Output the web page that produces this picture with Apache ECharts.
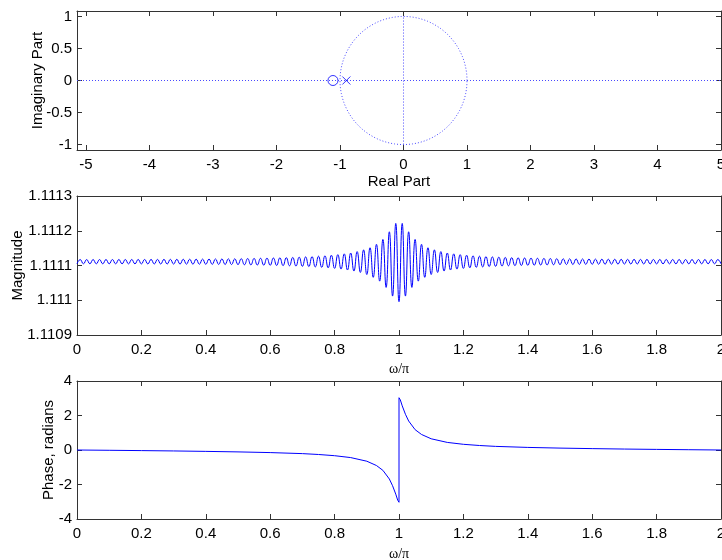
<!DOCTYPE html>
<html><head><meta charset="utf-8">
<script src="https://cdn.jsdelivr.net/npm/echarts@6/dist/echarts.min.js"></script>
<style>html,body{margin:0;padding:0;background:#fff}#c{width:722px;height:560px}</style>
</head><body><div id="c"></div>
<script>
// ---- data ----
const zeros = [[-1.111, 0]];
const poles = [[-0.9, 0]];
const realLimits = [-5.142, 5];
const imagLimits = [-1.085, 1.085];
const realTicks = [-5, -4, -3, -2, -1, 0, 1, 2, 3, 4, 5];
const imagTicks = [-1, -0.5, 0, 0.5, 1];
const magTicks = [1.1109, 1.111, 1.1111, 1.1112, 1.1113];
const phaseTicks = [-4, -2, 0, 2, 4];
const omegaTicks = [0, 0.2, 0.4, 0.6, 0.8, 1, 1.2, 1.4, 1.6, 1.8, 2];
const omegaStep = 0.01;
const magnitude = [
1.11110495,1.11111705,1.11110495,1.11111706,1.11110494,1.11111707,1.11110492,1.11111709,1.11110490,1.11111712,
1.11110487,1.11111714,1.11110484,1.11111718,1.11110480,1.11111723,1.11110475,1.11111728,1.11110470,1.11111733,
1.11110464,1.11111740,1.11110457,1.11111747,1.11110450,1.11111755,1.11110440,1.11111765,1.11110430,1.11111775,
1.11110420,1.11111785,1.11110410,1.11111800,1.11110395,1.11111810,1.11110380,1.11111825,1.11110370,1.11111840,
1.11110350,1.11111860,1.11110330,1.11111880,1.11110310,1.11111900,1.11110290,1.11111920,1.11110270,1.11111940,
1.11110245,1.11111970,1.11110220,1.11112000,1.11110180,1.11112030,1.11110150,1.11112070,1.11110110,1.11112110,
1.11110070,1.11112150,1.11110020,1.11112200,1.11109970,1.11112250,1.11109920,1.11112320,1.11109850,1.11112390,
1.11109770,1.11112470,1.11109690,1.11112560,1.11109580,1.11112670,1.11109470,1.11112800,1.11109330,1.11112950,
1.11109170,1.11113120,1.11108970,1.11113350,1.11108700,1.11113600,1.11108400,1.11114000,1.11108000,1.11114500,
1.11107400,1.11115100,1.11106600,1.11116100,1.11105500,1.11117500,1.11103700,1.11119700,1.11101200,1.11122100,
1.11099600,
1.11122100,1.11101200,1.11119700,1.11103700,1.11117500,1.11105500,1.11116100,1.11106600,1.11115100,1.11107400,
1.11114500,1.11108000,1.11114000,1.11108400,1.11113600,1.11108700,1.11113350,1.11108970,1.11113120,1.11109170,
1.11112950,1.11109330,1.11112800,1.11109470,1.11112670,1.11109580,1.11112560,1.11109690,1.11112470,1.11109770,
1.11112390,1.11109850,1.11112320,1.11109920,1.11112250,1.11109970,1.11112200,1.11110020,1.11112150,1.11110070,
1.11112110,1.11110110,1.11112070,1.11110150,1.11112030,1.11110180,1.11112000,1.11110220,1.11111970,1.11110245,
1.11111940,1.11110270,1.11111920,1.11110290,1.11111900,1.11110310,1.11111880,1.11110330,1.11111860,1.11110350,
1.11111840,1.11110370,1.11111825,1.11110380,1.11111810,1.11110395,1.11111800,1.11110410,1.11111785,1.11110420,
1.11111775,1.11110430,1.11111765,1.11110440,1.11111755,1.11110450,1.11111747,1.11110457,1.11111740,1.11110464,
1.11111733,1.11110470,1.11111728,1.11110475,1.11111723,1.11110480,1.11111718,1.11110484,1.11111714,1.11110487,
1.11111712,1.11110490,1.11111709,1.11110492,1.11111707,1.11110494,1.11111706,1.11110495,1.11111705,1.11110495
];
const phaseOmega = [0,0.1,0.2,0.3,0.4,0.5,0.6,0.7,0.75,0.8,0.85,0.9,0.93,0.95,0.97,0.98,0.99,0.996,1.0,
  1.0,1.004,1.01,1.02,1.03,1.05,1.07,1.1,1.15,1.2,1.25,1.3,1.4,1.5,1.6,1.7,1.8,1.9,2.0];
const phaseValues = [0,-0.017,-0.035,-0.055,-0.08,-0.11,-0.15,-0.21,-0.26,-0.33,-0.44,-0.65,-0.9,-1.18,-1.68,-2.07,-2.56,-2.91,-3.03,
  3.03,2.91,2.56,2.07,1.68,1.18,0.9,0.65,0.44,0.33,0.26,0.21,0.15,0.11,0.08,0.055,0.035,0.017,0];

// ---- chart ----
const FONT = '"Liberation Sans", Arial, sans-serif';
const SERIF = '"Liberation Serif", "Times New Roman", serif';
const AX = '#333';
const BLUE = '#0000ff';
const FS = 15;
const fmt1 = v => String(parseFloat(Number(v).toFixed(1)));
const fmt4 = v => String(parseFloat(Number(v).toFixed(4)));

function xAxes(gi, lim, ticks, fmt, name, nameFont, nameSize, nameGap) {
  const base = {
    type: 'value', gridIndex: gi, min: lim[0], max: lim[1],
    axisLine: { show: true, onZero: false, lineStyle: { color: AX, width: 1 } },
    splitLine: { show: false },
    axisTick: { show: true, inside: true, length: 5, customValues: ticks, lineStyle: { color: AX } }
  };
  return [
    Object.assign({}, base, {
      position: 'bottom',
      axisLabel: { customValues: ticks, margin: 7, fontSize: FS, fontFamily: FONT, color: '#000', formatter: fmt, hideOverlap: false },
      name: name, nameLocation: 'middle', nameGap: nameGap, nameMoveOverlap: false,
      nameTextStyle: { fontSize: nameSize, fontFamily: nameFont, color: '#000' }
    }),
    Object.assign({}, base, { position: 'top', axisLabel: { show: false } })
  ];
}
function yAxes(gi, lim, ticks, fmt, name, nameGap) {
  const base = {
    type: 'value', gridIndex: gi, min: lim[0], max: lim[1],
    axisLine: { show: true, onZero: false, lineStyle: { color: AX, width: 1 } },
    splitLine: { show: false },
    axisTick: { show: true, inside: true, length: 5, customValues: ticks, lineStyle: { color: AX } }
  };
  return [
    Object.assign({}, base, {
      position: 'left',
      axisLabel: { customValues: ticks, margin: 5, fontSize: FS, fontFamily: FONT, color: '#000', formatter: fmt, hideOverlap: false },
      name: name, nameLocation: 'middle', nameGap: nameGap, nameMoveOverlap: false,
      nameTextStyle: { fontSize: FS, fontFamily: FONT, color: '#000' }
    }),
    Object.assign({}, base, { position: 'right', axisLabel: { show: false } })
  ];
}

// unit circle reference geometry
const circle = [];
for (let a = 0; a <= 360; a += 2) {
  const t = a * Math.PI / 180;
  circle.push([Math.cos(t), Math.sin(t)]);
}
const dotted = { color: '#4a4aff', width: 1, type: [1, 2] };

const gridBase = { left: 77, width: 644, outerBoundsMode: 'none', containLabel: false };
const option = {
  animation: false,
  backgroundColor: '#fff',
  grid: [
    Object.assign({ top: 11, height: 139 }, gridBase),
    Object.assign({ top: 196, height: 139 }, gridBase),
    Object.assign({ top: 381, height: 138 }, gridBase)
  ],
  xAxis: [].concat(
    xAxes(0, realLimits, realTicks, v => String(v), 'Real Part', FONT, FS, 24),
    xAxes(1, [0, 2], omegaTicks, fmt1, 'ω/π', SERIF, 14, 27),
    xAxes(2, [0, 2], omegaTicks, fmt1, 'ω/π', SERIF, 14, 28)
  ),
  yAxis: [].concat(
    yAxes(0, imagLimits, imagTicks, v => String(v), 'Imaginary Part', 32),
    yAxes(1, [1.1109, 1.1113], magTicks, fmt4, 'Magnitude', 52),
    yAxes(2, [-4, 4], phaseTicks, v => String(v), 'Phase, radians', 21)
  ),
  series: [
    { type: 'line', xAxisIndex: 0, yAxisIndex: 0, data: circle, showSymbol: false, lineStyle: dotted, silent: true,
      markLine: { silent: true, symbol: 'none', label: { show: false }, lineStyle: dotted, data: [{ yAxis: 0 }] } },
    { type: 'line', xAxisIndex: 0, yAxisIndex: 0, data: [[0, -1], [0, 1]], showSymbol: false, lineStyle: dotted, silent: true },
    { type: 'scatter', xAxisIndex: 0, yAxisIndex: 0, data: zeros, symbol: 'circle', symbolSize: 10,
      itemStyle: { color: 'rgba(0,0,0,0)', borderColor: BLUE, borderWidth: 1 } },
    { type: 'scatter', xAxisIndex: 0, yAxisIndex: 0, data: poles, symbol: 'path://M0,0L10,10M10,0L0,10', symbolSize: 8,
      itemStyle: { color: 'none', borderColor: BLUE, borderWidth: 1 } },
    { type: 'line', xAxisIndex: 2, yAxisIndex: 2, data: magnitude.map((v, i) => [i * omegaStep, v]),
      showSymbol: false, smooth: 0.5, lineStyle: { color: BLUE, width: 1 } },
    { type: 'line', xAxisIndex: 4, yAxisIndex: 4, data: phaseOmega.map((w, i) => [w, phaseValues[i]]),
      showSymbol: false, lineStyle: { color: BLUE, width: 1 } }
  ]
};
echarts.init(document.getElementById('c')).setOption(option);
</script>
</body></html>
